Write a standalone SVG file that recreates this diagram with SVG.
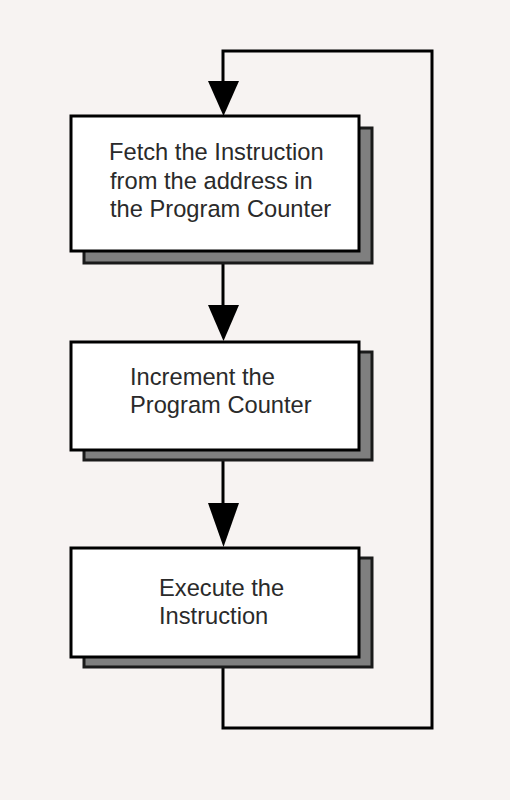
<svg xmlns="http://www.w3.org/2000/svg" width="510" height="800" viewBox="0 0 510 800">
  <defs>
    <style>
      .bg { fill: #f7f3f2; }
      .shadow { fill: #7f7f7f; stroke: #1a1a1a; stroke-width: 3; }
      .box { fill: #ffffff; stroke: #000000; stroke-width: 3; }
      .label { font-family: "Liberation Sans", Arial, sans-serif; font-size: 23.7px; fill: #2a2a2a; }
      .conn { fill: none; stroke: #000000; stroke-width: 3; }
      .head { fill: #000000; }
    </style>
  </defs>
  <rect class="bg" x="0" y="0" width="510" height="800"/>

  <g id="connectors">
    <polyline class="conn" points="223,667 223,728 432,728 432,51 223,51 223,84"/>
    <polygon class="head" points="208,81 239,81 223.5,116"/>
    <line class="conn" x1="223" y1="263" x2="223" y2="308"/>
    <polygon class="head" points="208,305 239,305 223.5,341"/>
    <line class="conn" x1="223" y1="460" x2="223" y2="506"/>
    <polygon class="head" points="208,503 239,503 223.5,547"/>
  </g>

  <g id="fetch">
    <rect class="shadow" x="84" y="128" width="288" height="135"/>
    <rect class="box" x="71" y="116" width="288" height="135"/>
    <text class="label" x="109" y="160">Fetch the Instruction</text>
    <text class="label" x="110" y="189">from the address in</text>
    <text class="label" x="110" y="217">the Program Counter</text>
  </g>

  <g id="increment">
    <rect class="shadow" x="84" y="352" width="288" height="108"/>
    <rect class="box" x="71" y="342" width="288" height="108"/>
    <text class="label" x="130" y="385">Increment the</text>
    <text class="label" x="130" y="413">Program Counter</text>
  </g>

  <g id="execute">
    <rect class="shadow" x="84" y="558" width="288" height="109"/>
    <rect class="box" x="71" y="548" width="288" height="109"/>
    <text class="label" x="159" y="596">Execute the</text>
    <text class="label" x="159" y="624">Instruction</text>
  </g>
</svg>
